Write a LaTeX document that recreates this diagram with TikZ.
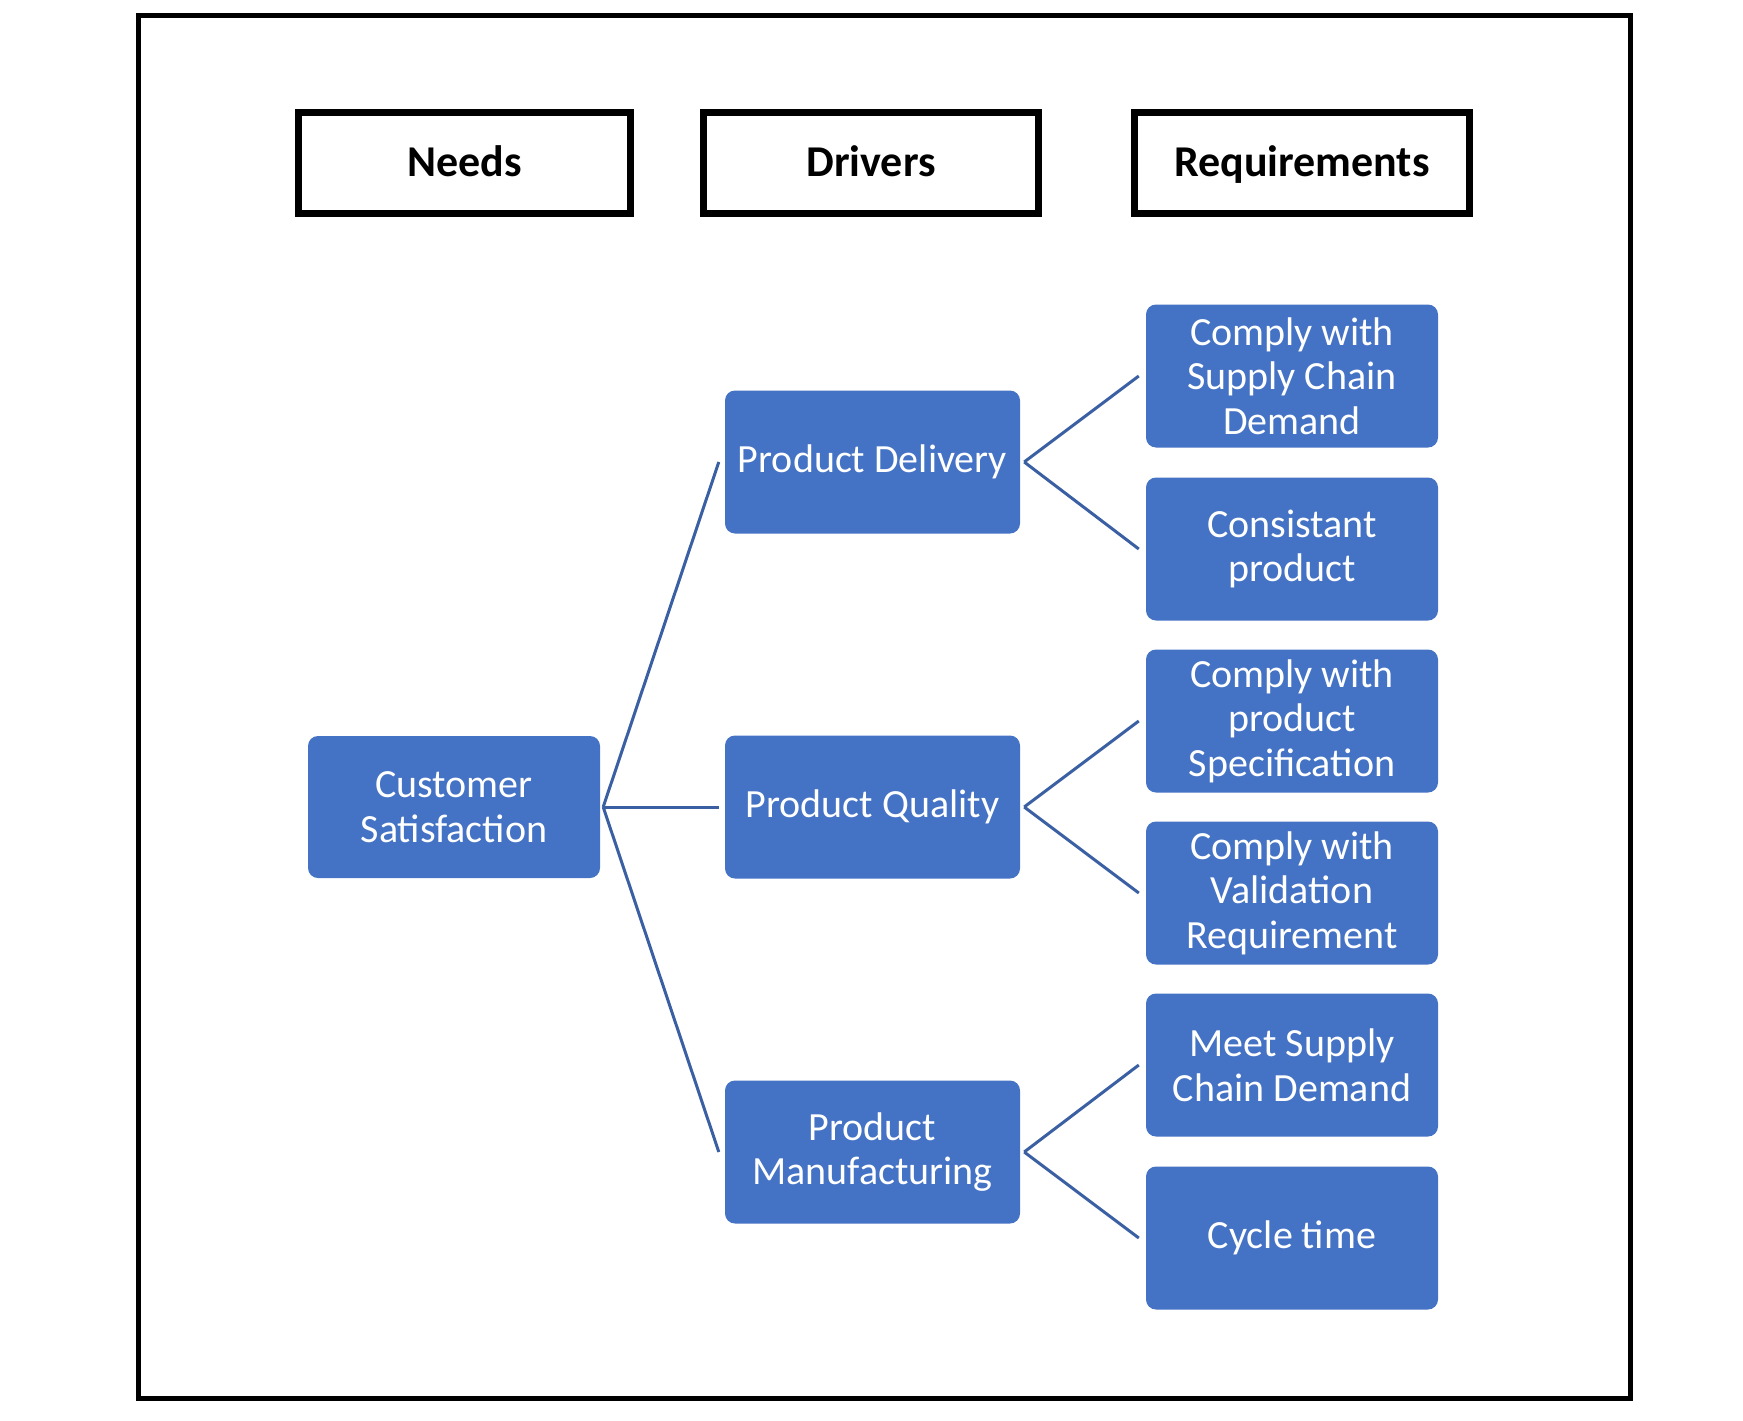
\documentclass[tikz,border=0pt]{standalone}
\usepackage{fontspec}
\setmainfont{Carlito}
\definecolor{boxblue}{HTML}{4472C4}
\definecolor{lineblue}{HTML}{3A5FA3}
\begin{document}
\begin{tikzpicture}[x=1pt,y=-1pt,
  hdr/.style={draw=black,line width=7pt,fill=white,minimum width=335pt,minimum height=101pt,
    font=\fontsize{44}{48}\selectfont\bfseries,inner sep=0pt,text height=28pt,text depth=2pt},
  bbox/.style={fill=boxblue,draw=none,rounded corners=10pt,text=white,align=center,
    minimum width=293pt,minimum height=143pt,inner sep=0pt,
    font=\fontsize{40}{44.5}\selectfont},
  conn/.style={draw=lineblue,line width=3pt}]
\useasboundingbox (0,0) rectangle (1743,1421);
\draw[line width=5pt,black] (138.5,15.5) rectangle (1630.5,1398.5);

\node[hdr,minimum width=332pt] (needs) at (464.5,163) {Needs};
\node[hdr] (drivers) at (871,163) {Drivers};
\node[hdr] (reqs) at (1302,163) {Requirements};

\node[bbox,minimum width=292pt,minimum height=142pt] (cs) at (454,807) {Customer\\Satisfaction};
\node[bbox,minimum width=295pt] (pd) at (872.5,462) {Product Delivery};
\node[bbox,minimum width=295pt] (pq) at (872.5,807) {Product Quality};
\node[bbox,minimum width=295pt] (pm) at (872.5,1152) {Product\\Manufacturing};

\node[bbox,minimum width=292pt] (r1) at (1292,376) {Comply with\\Supply Chain\\Demand};
\node[bbox,minimum width=292pt] (r2) at (1292,549) {Consistant\\product};
\node[bbox,minimum width=292pt] (r3) at (1292,721) {Comply with\\product\\Specification};
\node[bbox,minimum width=292pt] (r4) at (1292,893) {Comply with\\Validation\\Requirement};
\node[bbox,minimum width=292pt] (r5) at (1292,1065) {Meet Supply\\Chain Demand};
\node[bbox,minimum width=292pt] (r6) at (1292,1238) {Cycle time};

\foreach \d in {pd,pq,pm}{
  \draw[conn] ([xshift=3pt]cs.east) -- ([xshift=-6pt]\d.west);
}
\draw[conn] ([xshift=4pt]pd.east) -- ([xshift=-7pt]r1.west);
\draw[conn] ([xshift=4pt]pd.east) -- ([xshift=-7pt]r2.west);
\draw[conn] ([xshift=4pt]pq.east) -- ([xshift=-7pt]r3.west);
\draw[conn] ([xshift=4pt]pq.east) -- ([xshift=-7pt]r4.west);
\draw[conn] ([xshift=4pt]pm.east) -- ([xshift=-7pt]r5.west);
\draw[conn] ([xshift=4pt]pm.east) -- ([xshift=-7pt]r6.west);
\end{tikzpicture}
\end{document}
